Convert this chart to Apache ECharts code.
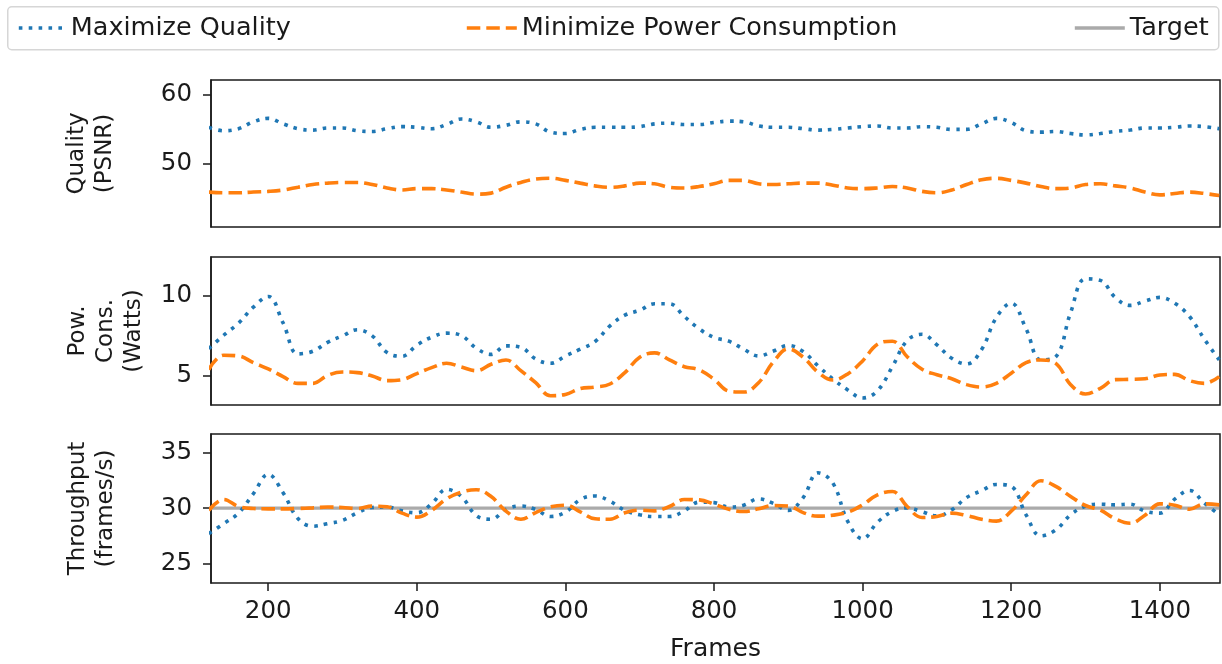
<!DOCTYPE html>
<html>
<head>
<meta charset="utf-8">
<script src="https://cdn.jsdelivr.net/npm/echarts@6/dist/echarts.min.js"></script>
<style>
  html, body { margin: 0; padding: 0; background: #fff; }
  #chart { width: 1222px; height: 664px; }
</style>
</head>
<body>
<div id="chart"></div>
<script>
// frame index (x) shared by every panel
const frames = [120, 140, 160, 180, 200, 220, 240, 260, 280, 300, 320, 340, 360, 380, 400, 420, 440, 460, 480, 500,
  520, 540, 560, 580, 600, 620, 640, 660, 680, 700, 720, 740, 760, 780, 800, 820, 840, 860, 880, 900,
  920, 940, 960, 980, 1000, 1020, 1040, 1060, 1080, 1100, 1120, 1140, 1160, 1180, 1200, 1220, 1240, 1260, 1280, 1300,
  1320, 1340, 1360, 1380, 1400, 1420, 1440, 1460, 1480]

// Quality (PSNR)
const qualityMaxQuality = [55.3, 54.8, 55.1, 56.1, 56.6, 55.8, 55.1, 54.9, 55.2, 55.2, 54.8, 54.7, 55.1, 55.4, 55.3, 55.1, 55.7, 56.5, 56.1, 55.3,
  55.6, 56.1, 55.8, 54.6, 54.4, 55.0, 55.3, 55.3, 55.3, 55.4, 55.8, 55.9, 55.7, 55.7, 56.0, 56.2, 56.1, 55.5, 55.3, 55.3,
  55.1, 54.9, 55.0, 55.2, 55.4, 55.5, 55.2, 55.2, 55.4, 55.3, 55.0, 55.0, 55.8, 56.6, 56.0, 54.8, 54.6, 54.7, 54.4, 54.2,
  54.4, 54.7, 54.9, 55.2, 55.2, 55.3, 55.5, 55.4, 55.1]
const qualityMinPower = [45.9, 45.8, 45.8, 45.9, 46.0, 46.2, 46.6, 47.0, 47.2, 47.3, 47.3, 47.0, 46.5, 46.2, 46.4, 46.4, 46.2, 45.9, 45.6, 45.75,
  46.6, 47.3, 47.8, 47.9, 47.6, 47.2, 46.8, 46.6, 46.8, 47.2, 47.1, 46.6, 46.5, 46.7, 47.1, 47.6, 47.6, 47.1, 47.0, 47.1,
  47.2, 47.2, 46.9, 46.5, 46.4, 46.5, 46.7, 46.5, 46.0, 45.8, 46.2, 47.0, 47.7, 47.9, 47.6, 47.2, 46.7, 46.4, 46.5, 47.0,
  47.1, 46.8, 46.5, 45.9, 45.5, 45.7, 45.9, 45.7, 45.4]

// Power consumption (Watts)
const powerMaxQuality = [6.7, 7.54, 8.29, 9.29, 9.96, 8.31, 6.38, 6.54, 7.1, 7.5, 7.88, 7.5, 6.46, 6.23, 6.92, 7.42, 7.67, 7.52, 6.73, 6.35,
  6.88, 6.79, 6.06, 5.79, 6.25, 6.67, 7.15, 8.13, 8.79, 9.1, 9.5, 9.5, 8.71, 7.94, 7.4, 7.17, 6.67, 6.25, 6.56, 6.9,
  6.52, 5.63, 4.81, 4.13, 3.63, 4.08, 5.58, 7.21, 7.6, 6.94, 6.1, 5.75, 6.63, 8.65, 9.54, 7.94, 6.0, 6.2, 8.96, 11.06,
  10.96, 9.9, 9.4, 9.67, 9.9, 9.54, 8.71, 7.29, 6.0]
const powerMinPower = [5.4, 6.29, 6.25, 5.83, 5.44, 4.96, 4.54, 4.54, 5.04, 5.25, 5.21, 5.0, 4.71, 4.77, 5.15, 5.52, 5.79, 5.56, 5.33, 5.73,
  6.0, 5.33, 4.58, 3.77, 3.85, 4.21, 4.31, 4.5, 5.21, 6.17, 6.44, 6.0, 5.58, 5.38, 4.8, 4.06, 4.0, 4.58, 5.88, 6.69,
  6.17, 5.23, 4.75, 5.13, 5.94, 6.98, 7.17, 6.2, 5.42, 5.08, 4.83, 4.46, 4.31, 4.54, 5.17, 5.83, 6.0, 5.79, 4.46, 3.88,
  4.23, 4.77, 4.79, 4.83, 5.06, 5.1, 4.71, 4.54, 4.96]

// Throughput (frames/s)
const throughputMaxQuality = [27.7, 28.6, 29.55, 31.3, 33.04, 31.4, 29.07, 28.37, 28.6, 28.9, 29.58, 30.06, 30.1, 29.76, 29.58, 30.4, 31.7, 31.05, 29.34, 29.0,
  29.9, 30.2, 29.88, 29.25, 29.64, 30.78, 31.1, 30.63, 29.8, 29.4, 29.25, 29.25, 29.76, 30.54, 30.5, 30.1, 30.27, 30.84, 30.42, 29.8,
  30.96, 33.19, 32.26, 28.8, 27.23, 28.73, 29.7, 30.03, 29.67, 29.3, 29.85, 30.96, 31.57, 32.14, 31.96, 29.4, 27.5, 28.04, 29.4, 30.18,
  30.36, 30.3, 30.36, 29.73, 29.55, 30.81, 31.6, 30.45, 29.4]
const throughputMinPower = [29.8, 30.78, 30.15, 29.97, 29.94, 29.94, 29.97, 30.03, 30.1, 30.06, 29.97, 30.18, 30.12, 29.55, 29.19, 29.8, 30.84, 31.45, 31.66, 31.05,
  29.73, 29.0, 29.6, 30.12, 30.27, 29.67, 29.04, 29.0, 29.58, 29.82, 29.76, 30.15, 30.78, 30.75, 30.37, 29.9, 29.7, 29.94, 30.24, 30.2,
  29.6, 29.28, 29.37, 29.64, 30.3, 31.2, 31.5, 30.15, 29.16, 29.25, 29.55, 29.34, 29.0, 28.83, 29.73, 31.2, 32.47, 31.96, 31.05, 30.24,
  29.82, 29.04, 28.64, 29.37, 30.39, 30.27, 29.9, 30.39, 30.3]
const targetThroughput = 30

const xTicks = [200, 400, 600, 800, 1000, 1200, 1400]
const yTicks = [[50, 60], [5, 10], [25, 30, 35]]
const yNames = ['Quality\n(PSNR)', 'Pow.\nCons.\n(Watts)', 'Throughput\n(frames/s)']

const FONT = 'DejaVu Sans'
const BLUE = '#1f77b4'
const ORANGE = '#ff7f0e'
const GREY = '#aaaaaa'
const INK = '#1a1a1a'

const pairs = ys => frames.map((f, i) => [f, ys[i]])

const grids = [
  { top: 80, height: 147 },
  { top: 257, height: 148 },
  { top: 434, height: 149 }
].map(g => ({ ...g, left: 211, right: 2, show: true, borderColor: INK, borderWidth: 1.5 }))

const yRanges = [[40.83, 62.17], [3.19, 12.42], [23.25, 36.69]]
const yGaps = [92, 63, 91]

const xAxes = grids.map((g, i) => ({
  type: 'value',
  gridIndex: i,
  min: 123,
  max: 1481,
  splitLine: { show: false },
  axisLine: { show: false },
  axisTick: i === 2 ? { show: true, inside: false, length: 8, lineStyle: { color: INK, width: 1.5 }, customValues: xTicks } : { show: false },
  axisLabel: i === 2
    ? { show: true, margin: 16, fontSize: 24.5, fontFamily: FONT, color: INK, customValues: xTicks, formatter: v => String(v) }
    : { show: false },
  name: i === 2 ? 'Frames' : '',
  nameLocation: 'middle',
  nameGap: 54,
  nameTextStyle: { fontSize: 25, fontFamily: FONT, color: INK }
}))

const yAxes = grids.map((g, i) => ({
  type: 'value',
  gridIndex: i,
  min: yRanges[i][0],
  max: yRanges[i][1],
  splitLine: { show: false },
  axisLine: { show: true, lineStyle: { color: INK, width: 1.5 } },
  axisTick: { show: true, length: 8, lineStyle: { color: INK, width: 1.5 }, customValues: yTicks[i] },
  axisLabel: { margin: 19, fontSize: 24.5, fontFamily: FONT, color: INK, customValues: yTicks[i] },
  name: yNames[i],
  nameLocation: 'middle',
  nameRotate: 90,
  nameGap: yGaps[i],
  nameTextStyle: { fontSize: 23, lineHeight: 28, fontFamily: FONT, color: INK, align: 'center' }
}))

const dotted = { color: BLUE, width: 3.6, type: [3.6, 6.3] }
const dashed = { color: ORANGE, width: 3.6, type: [13.5, 6] }

const series = []
const panels = [
  [qualityMaxQuality, qualityMinPower],
  [powerMaxQuality, powerMinPower],
  [throughputMaxQuality, throughputMinPower]
]
panels.forEach(([maxQ, minP], i) => {
  series.push({
    name: 'Maximize Quality', type: 'line', xAxisIndex: i, yAxisIndex: i,
    data: pairs(maxQ), smooth: 0.4, symbol: 'none', lineStyle: dotted, itemStyle: { color: BLUE }, z: 3
  })
  series.push({
    name: 'Minimize Power Consumption', type: 'line', xAxisIndex: i, yAxisIndex: i,
    data: pairs(minP), smooth: 0.4, symbol: 'none', lineStyle: dashed, itemStyle: { color: ORANGE }, z: 4
  })
})
series.push({
  name: 'Target', type: 'line', xAxisIndex: 2, yAxisIndex: 2,
  data: [[frames[0], targetThroughput], [frames[frames.length - 1], targetThroughput]],
  symbol: 'none', lineStyle: { color: GREY, width: 3.4 }, itemStyle: { color: GREY }, z: 2
})

const legendBase = {
  top: 14,
  padding: 0,
  itemHeight: 14,
  itemWidth: 50,
  selectedMode: false,
  itemStyle: { opacity: 0 },
  lineStyle: { width: 3.6 },
  textStyle: { fontSize: 25.5, fontFamily: FONT, color: INK, lineHeight: 28 }
}

const chart = echarts.init(document.getElementById('chart'))
chart.setOption({
  animation: false,
  backgroundColor: '#fff',
  graphic: [{
    type: 'rect', left: 7, top: 6, z: -1, silent: true,
    shape: { width: 1211, height: 43, r: 4 },
    style: { fill: '#fff', stroke: '#d6d6d6', lineWidth: 1.5 }
  }],
  legend: [
    { ...legendBase, data: ['Maximize Quality'], left: 17, itemWidth: 47 },
    { ...legendBase, data: ['Minimize Power Consumption'], left: 465 },
    { ...legendBase, data: ['Target'], left: 1073 }
  ],
  grid: grids,
  xAxis: xAxes,
  yAxis: yAxes,
  series
})
</script>
</body>
</html>
